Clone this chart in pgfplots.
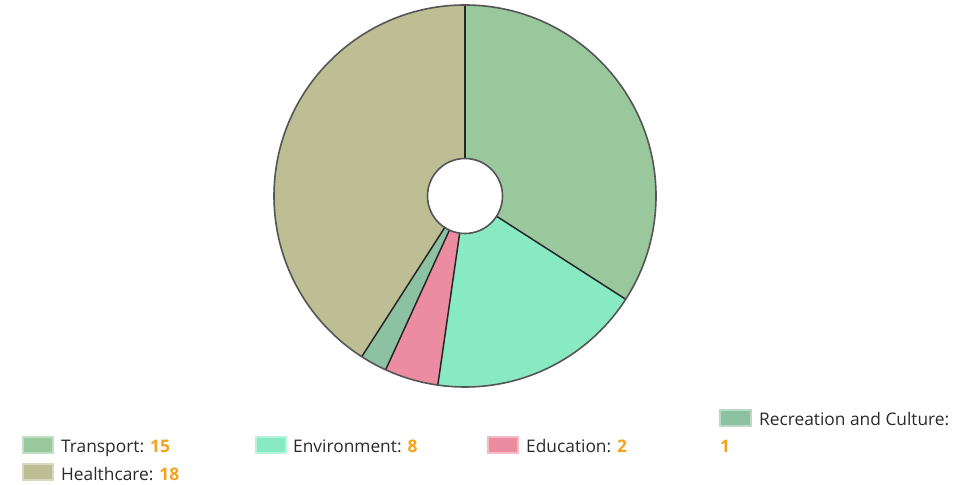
\documentclass[border=0pt]{standalone}
\usepackage{pgfplots}
\pgfplotsset{compat=1.18}
\usepackage{pgfplotstable}
\usepackage{fontspec}
\setmainfont{Open Sans}
\definecolor{cT}{HTML}{99C89D}
\definecolor{cE}{HTML}{88EAC3}
\definecolor{cEd}{HTML}{EC8CA0}
\definecolor{cR}{HTML}{8CC2A2}
\definecolor{cH}{HTML}{BDBE94}
\definecolor{valc}{HTML}{F5A21C}
\definecolor{txt}{HTML}{2A2A2A}
\definecolor{rim}{HTML}{555555}

% slice values, clockwise from 12 o'clock
\pgfplotstableread[col sep=comma]{
label,value,color
Transport,15,cT
Environment,8,cE
Education,2,cEd
Recreation and Culture,1,cR
Healthcare,18,cH
}\piedata

\begin{document}
\begin{tikzpicture}
\begin{axis}[
    at={(0,0)}, anchor=south west,
    scale only axis,
    width=974bp, height=485bp,
    xmin=0, xmax=974, ymin=0, ymax=485,
    hide axis, clip=false,
]
% total
\pgfplotstablegetrowsof{\piedata}
\pgfmathtruncatemacro\nrows{\pgfplotsretval-1}
\gdef\total{0}
\pgfplotsforeachungrouped \i in {0,...,\nrows}{%
  \pgfplotstablegetelem{\i}{value}\of\piedata
  \pgfmathsetmacro\t{\total+\pgfplotsretval}
  \xdef\total{\t}%
}
% slices
\gdef\cum{0}
\pgfplotsforeachungrouped \i in {0,...,\nrows}{%
  \pgfplotstablegetelem{\i}{value}\of\piedata \let\v\pgfplotsretval
  \pgfplotstablegetelem{\i}{color}\of\piedata \let\c\pgfplotsretval
  \pgfmathsetmacro\a{90-\cum/\total*360}
  \pgfmathsetmacro\n{\cum+\v}
  \pgfmathsetmacro\b{90-\n/\total*360}
  \edef\tmp{\noexpand\fill[\c] (axis cs:465,289) -- ++(\a:191bp)
     arc[start angle=\a, end angle=\b, radius=191bp] -- cycle;}\tmp
  \xdef\cum{\n}%
}
% separators
\gdef\cum{0}
\pgfplotsforeachungrouped \i in {0,...,\nrows}{%
  \pgfplotstablegetelem{\i}{value}\of\piedata \let\v\pgfplotsretval
  \pgfmathsetmacro\a{90-\cum/\total*360}
  \edef\tmp{\noexpand\draw[line width=1.5bp, black!85] (axis cs:465,289) -- ++(\a:191bp);}\tmp
  \pgfmathsetmacro\n{\cum+\v}
  \xdef\cum{\n}%
}
\draw[line width=1.6bp, rim] (axis cs:465,289) circle[radius=191bp];
\draw[line width=1.6bp, rim, fill=white] (axis cs:465,289) circle[radius=37.5bp];

% legend
\begin{scope}[every node/.style={anchor=base west, inner sep=0pt, text=txt, font=\fontsize{17.4}{20}\selectfont}]
\fill[cT, draw=cT!60!white, line width=1.5bp] (axis cs:23,48) rectangle (axis cs:53,32);
\node at (axis cs:61,32) {Transport: \textcolor{valc}{\bfseries 15}};
\fill[cE, draw=cE!60!white, line width=1.5bp] (axis cs:256,48) rectangle (axis cs:286,32);
\node at (axis cs:293,32) {Environment: \textcolor{valc}{\bfseries 8}};
\fill[cEd, draw=cEd!60!white, line width=1.5bp] (axis cs:488,48) rectangle (axis cs:518,32);
\node at (axis cs:526,32) {Education: \textcolor{valc}{\bfseries 2}};
\fill[cR, draw=cR!60!white, line width=1.5bp] (axis cs:720,75) rectangle (axis cs:751,59);
\node at (axis cs:759,59) {Recreation and Culture:};
\node at (axis cs:720,32) {\textcolor{valc}{\bfseries 1}};
\fill[cH, draw=cH!60!white, line width=1.5bp] (axis cs:23,21) rectangle (axis cs:53,5);
\node at (axis cs:61,5) {Healthcare: \textcolor{valc}{\bfseries 18}};
\end{scope}
\end{axis}
\pgfresetboundingbox
\path (0,0) rectangle (974bp,485bp);
\end{tikzpicture}
\end{document}
